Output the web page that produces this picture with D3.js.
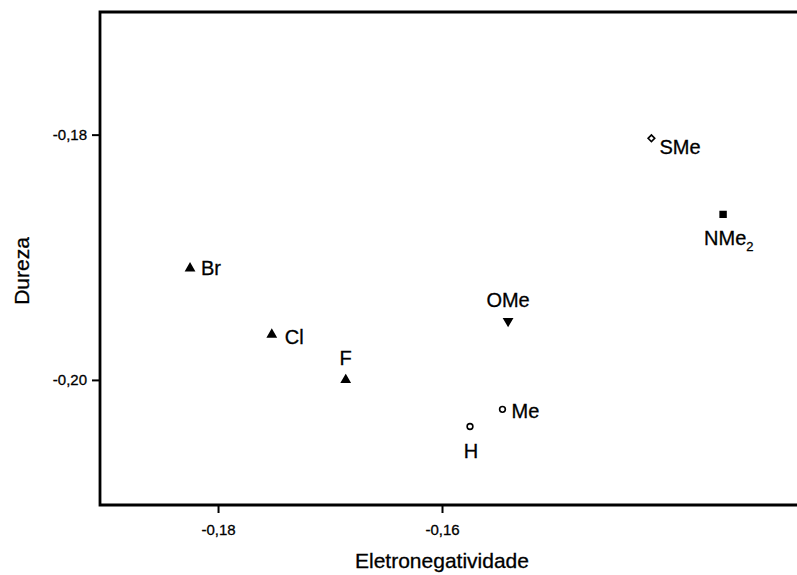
<!DOCTYPE html>
<html>
<head>
<meta charset="utf-8">
<script src="https://cdn.jsdelivr.net/npm/d3@7"></script>
<style>
  html, body { margin: 0; padding: 0; background: #fff; }
  svg { display: block; }
</style>
</head>
<body>
<svg id="chart" width="797" height="575"></svg>
<script>
// ---- data ----
const names  = ["Br", "Cl", "F", "H", "Me", "OMe", "SMe", "NMe2"];
const xVals  = [-0.1825, -0.1752, -0.1686, -0.1575, -0.1546, -0.1541, -0.1413, -0.1349];
const yVals  = [-0.1909, -0.1963, -0.2000, -0.2038, -0.2024, -0.1952, -0.1803, -0.1865];
const shapes = ["triUp", "triUp", "triUp", "circle", "circle", "triDown", "diamond", "square"];
const xTicks = [-0.18, -0.16];
const yTicks = [-0.18, -0.20];
const xDomain = [-0.19054, -0.1283];
const yDomain = [-0.2102, -0.1700];
const xTitle = "Eletronegatividade";
const yTitle = "Dureza";

(function () {
// ---- layout ----
const svg = d3.select("#chart");
const pL = 100, pR = 797, pT = 12, pB = 505;
const x = d3.scaleLinear().domain(xDomain).range([pL, pR]);
const y = d3.scaleLinear().domain(yDomain).range([pB, pT]);
const fmt = d => d3.format(".2f")(d).replace("\u2212", "-").replace(".", ",");
const font = "'Liberation Sans', Arial, Helvetica, sans-serif";

// frame (left, top, bottom)
svg.append("path")
  .attr("d", `M${pR},${pT}H${pL}V${pB}H${pR}`)
  .attr("fill", "none").attr("stroke", "#000").attr("stroke-width", 2.8);

// axes
const xAxis = d3.axisBottom(x).tickValues(xTicks).tickFormat(fmt).tickSize(8).tickPadding(11);
const gx = svg.append("g").attr("transform", `translate(0,${pB})`).call(xAxis);
gx.select(".domain").remove();
gx.selectAll(".tick line").attr("stroke", "#000").attr("stroke-width", 2);
gx.selectAll(".tick text").attr("font-family", font).attr("font-size", 15).attr("fill", "#000")
  .attr("stroke", "#000").attr("stroke-width", 0.3);

const yAxis = d3.axisLeft(y).tickValues(yTicks).tickFormat(fmt).tickSize(8).tickPadding(5);
const gy = svg.append("g").attr("transform", `translate(${pL},0)`).call(yAxis);
gy.select(".domain").remove();
gy.selectAll(".tick line").attr("stroke", "#000").attr("stroke-width", 2);
gy.selectAll(".tick text").attr("font-family", font).attr("font-size", 15).attr("fill", "#000")
  .attr("stroke", "#000").attr("stroke-width", 0.3);

// titles
svg.append("text").attr("x", 442).attr("y", 568).attr("text-anchor", "middle")
  .attr("font-family", font).attr("font-size", 21).attr("stroke", "#000").attr("stroke-width", 0.3)
  .text(xTitle);
svg.append("text").attr("transform", "translate(29,271) rotate(-90)").attr("text-anchor", "middle")
  .attr("font-family", font).attr("font-size", 21).attr("stroke", "#000").attr("stroke-width", 0.3)
  .text(yTitle);

// markers
const symbolMap = {
  triUp:   { type: d3.symbolTriangle, size: 28, fill: "#000", rot: 0 },
  triDown: { type: d3.symbolTriangle, size: 28, fill: "#000", rot: 180 },
  circle:  { type: d3.symbolCircle,   size: 26, fill: "#fff", rot: 0 },
  diamond: { type: d3.symbolSquare,   size: 22, fill: "#fff", rot: 45 },
  square:  { type: d3.symbolSquare,   size: 34, fill: "#000", rot: 0 }
};
const pts = names.map((n, i) => ({ name: n, x: xVals[i], y: yVals[i], shape: shapes[i] }));
svg.append("g").selectAll("path").data(pts).join("path")
  .attr("transform", d => `translate(${x(d.x)},${y(d.y)}) rotate(${symbolMap[d.shape].rot})`)
  .attr("d", d => d3.symbol(symbolMap[d.shape].type, symbolMap[d.shape].size)())
  .attr("fill", d => symbolMap[d.shape].fill)
  .attr("stroke", "#000").attr("stroke-width", 1.6);

// labels
const labelPos = {
  Br:   { dx: 11, dy: 7,  anchor: "start" },
  Cl:   { dx: 13, dy: 9,  anchor: "start" },
  F:    { dx: 0,  dy: -15, anchor: "middle" },
  H:    { dx: 1,  dy: 31, anchor: "middle" },
  Me:   { dx: 9,  dy: 9,  anchor: "start" },
  OMe:  { dx: 0,  dy: -14, anchor: "middle" },
  SMe:  { dx: 8,  dy: 16, anchor: "start" },
  NMe2: { dx: -19, dy: 31, anchor: "start" }
};
const lg = svg.append("g").attr("font-family", font).attr("font-size", 20).attr("fill", "#000")
  .attr("stroke", "#000").attr("stroke-width", 0.3);
pts.forEach(d => {
  const p = labelPos[d.name];
  const t = lg.append("text")
    .attr("x", x(d.x) + p.dx).attr("y", y(d.y) + p.dy)
    .attr("text-anchor", p.anchor);
  const m = d.name.match(/^([A-Za-z]+)(\d*)$/);
  t.append("tspan").text(m[1]);
  if (m[2]) t.append("tspan").attr("font-size", 13).attr("dy", 6).text(m[2]);
});
})();
</script>
</body>
</html>
